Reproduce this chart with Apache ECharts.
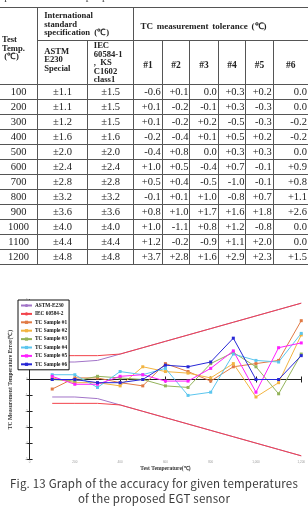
<!DOCTYPE html>
<html>
<head>
<meta charset="utf-8">
<script src="https://cdn.jsdelivr.net/npm/echarts@6/dist/echarts.min.js"></script>
<style>
  html, body { margin: 0; padding: 0; background: #fff; }
  body { width: 308px; height: 506px; position: relative; overflow: hidden; }
  #main { position: absolute; left: 0; top: 0; width: 308px; height: 506px; }
  #topline { position: absolute; left: -14px; top: -10px; font: 11px "Liberation Serif", serif; color: #444; white-space: nowrap; letter-spacing: 0.6px; }
  #tbl { position: absolute; left: 0; top: 7px; border-collapse: collapse; table-layout: fixed; font-family: "Liberation Serif", serif; color: #222; background: #fff; }
  #tbl td { border: 1px solid #555; padding: 0; overflow: hidden; }
  #tbl tr td:first-child { border-left: none; }
  #tbl tr td:last-child { border-right: none; }
  #tbl .h { font-weight: bold; font-size: 8.6px; line-height: 8.6px; vertical-align: middle; }
  #tbl .d td { font-size: 10.5px; height: 14px; line-height: 14px; }
  #caption { position: absolute; left: 0; width: 308px; top: 476px; text-align: center; font: 11.5px "Noto Sans CJK KR", "Noto Sans", sans-serif; line-height: 15px; color: #3a3a3a; letter-spacing: 0.2px; }
</style>
</head>
<body>
<div id="main"></div>
<div id="topline">temperatures of the proposed EGT sensor</div>
<table id="tbl"></table>
<div id="caption">Fig. 13 Graph of the accuracy for given temperatures<br>of the proposed EGT sensor</div>
<script>
// 试验温度与各标准允差
var temps = [100, 200, 300, 400, 500, 600, 700, 800, 900, 1000, 1100, 1200];
var astm = [1.1, 1.1, 1.2, 1.6, 2.0, 2.4, 2.8, 3.2, 3.6, 4.0, 4.4, 4.8];
var iec = [1.5, 1.5, 1.5, 1.6, 2.0, 2.4, 2.8, 3.2, 3.6, 4.0, 4.4, 4.8];
var astmLow = [-1.1, -1.1, -1.2, -1.6, -2.0, -2.4, -2.8, -3.2, -3.6, -4.0, -4.4, -4.8];
var iecLow = [-1.5, -1.5, -1.5, -1.6, -2.0, -2.4, -2.8, -3.2, -3.6, -4.0, -4.4, -4.8];
// 6个TC样品的测量误差
var tc1 = [-0.6, 0.1, 0.1, -0.2, -0.4, 1.0, 0.5, -0.1, 0.8, 1.0, 1.2, 3.7];
var tc2 = [0.1, -0.2, -0.2, -0.4, 0.8, 0.5, 0.4, 0.1, 1.0, -1.1, -0.2, 2.8];
var tc3 = [0.0, -0.1, 0.2, 0.1, 0.0, -0.4, -0.5, 1.0, 1.7, 0.8, -0.9, 1.6];
var tc4 = [0.3, 0.3, -0.5, 0.5, 0.3, 0.7, -1.0, -0.8, 1.6, 1.2, 1.1, 2.9];
var tc5 = [0.2, -0.3, -0.3, 0.2, 0.3, -0.1, -0.1, 0.7, 1.8, -0.8, 2.0, 2.3];
var tc6 = [0.0, 0.0, -0.2, -0.2, 0.0, 0.9, 0.8, 1.1, 2.6, 0.0, 0.0, 1.5];
var tcNames = ['TC Sample #1', 'TC Sample #2', 'TC Sample #3', 'TC Sample #4', 'TC Sample #5', 'TC Sample #6'];
var tcColors = ['#e07a45', '#f2b441', '#93b35a', '#5cc6ee', '#ff1fff', '#2727d6'];
var yTicks = [-5, 5, 1];
var xTicks = [0, 1200, 200];

// ---- 表格 ----
var colW = [37.7, 49.6, 46.7, 28.3, 27.7, 28.3, 27.7, 27.3, 34.7];
function sgn(v) { return v > 0 ? '+' + v.toFixed(1) : v.toFixed(1); }
var html = '<colgroup>';
colW.forEach(function (w) { html += '<col style="width:' + w + 'px">'; });
html += '</colgroup>';
html += '<tr style="height:33px"><td class="h" rowspan="2" style="padding-left:2px;padding-top:4px">Test<br>Temp.<br>&nbsp;(℃)</td>' +
  '<td class="h" colspan="2" style="padding-left:6px">International<br>standard<br>specification &nbsp;(℃)</td>' +
  '<td class="h" colspan="6" style="padding-left:6px;padding-top:4px;font-size:9px;word-spacing:1.5px">TC measurement tolerance (℃)</td></tr>';
html += '<tr style="height:43.5px"><td class="h" style="padding-left:6px;padding-bottom:6px">ASTM<br>E230<br>Special</td>' +
  '<td class="h" style="padding-left:6px">IEC<br>60584-1<br>, &nbsp;KS<br>C1602<br>class1</td>';
for (var k = 1; k <= 6; k++) html += '<td class="h" style="text-align:center;font-size:9.5px;padding-top:6px">#' + k + '</td>';
html += '</tr>';
var tcs = [tc1, tc2, tc3, tc4, tc5, tc6];
temps.forEach(function (t, i) {
  html += '<tr class="d"><td style="text-align:center">' + t + '</td>' +
    '<td style="text-align:center">±' + astm[i].toFixed(1) + '</td>' +
    '<td style="text-align:center">±' + iec[i].toFixed(1) + '</td>';
  tcs.forEach(function (s) { html += '<td style="text-align:right;padding-right:1px">' + sgn(s[i]) + '</td>'; });
  html += '</tr>';
});
document.getElementById('tbl').innerHTML = html;

// ---- 图表 ----
function pairs(arr) { return temps.map(function (t, i) { return [t, arr[i]]; }); }
var myChart = echarts.init(document.getElementById('main'));
var series = [
  { name: 'ASTM-E230', type: 'line', data: pairs(astm), symbol: 'none', lineStyle: { width: 1, color: '#a274c8' }, itemStyle: { color: '#a274c8' } },
  { name: 'ASTM-E230', type: 'line', data: pairs(astmLow), symbol: 'none', lineStyle: { width: 1, color: '#a274c8' }, itemStyle: { color: '#a274c8' } },
  { name: 'IEC 60584-2', type: 'line', data: pairs(iec), symbol: 'none', lineStyle: { width: 1, color: '#f2434b' }, itemStyle: { color: '#f2434b' } },
  { name: 'IEC 60584-2', type: 'line', data: pairs(iecLow), symbol: 'none', lineStyle: { width: 1, color: '#f2434b' }, itemStyle: { color: '#f2434b' } }
];
tcs.forEach(function (s, i) {
  series.push({
    name: tcNames[i], type: 'line', data: pairs(s),
    symbol: 'rect', symbolSize: 3,
    lineStyle: { width: 1, color: tcColors[i] },
    itemStyle: { color: tcColors[i] }
  });
});
var axisCommon = {
  axisLine: { show: true, lineStyle: { color: '#222', width: 1 } },
  axisTick: { show: true, inside: true, length: 3, lineStyle: { color: '#222' } },
  splitLine: { show: false }
};
option = {
  animation: false,
  legend: {
    orient: 'vertical', left: 18, top: 300,
    data: ['ASTM-E230', 'IEC 60584-2'].concat(tcNames),
    itemWidth: 11, itemHeight: 4, itemGap: 3.4,
    padding: [3, 2, 3, 2],
    backgroundColor: '#fff', borderColor: '#111', borderWidth: 1,
    textStyle: { fontSize: 5.3, fontWeight: 'bold', fontFamily: 'Liberation Serif', color: '#111', padding: [0, 0, 0, -2] }
  },
  grid: { left: 18, right: 1, top: 300, bottom: 47 },
  xAxis: [
    Object.assign({
      type: 'value', min: xTicks[0], max: xTicks[1], interval: xTicks[2],
      name: 'Test Temperature(℃)', nameLocation: 'middle', nameGap: 7,
      nameTextStyle: { fontSize: 5.5, fontWeight: 'bold', fontFamily: 'Liberation Serif', color: '#333' },
      axisLabel: { fontSize: 3, color: '#999', margin: 2 }
    }, axisCommon),
    Object.assign({
      type: 'value', min: xTicks[0], max: xTicks[1], interval: xTicks[2], position: 'top',
      axisLabel: { show: false }
    }, axisCommon)
  ],
  yAxis: [
    Object.assign({
      type: 'value', min: yTicks[0], max: yTicks[1], interval: yTicks[2],
      name: 'TC Measurement Temperature Error(℃)', nameLocation: 'middle', nameGap: 9,
      nameTextStyle: { fontSize: 5.6, fontWeight: 'bold', fontFamily: 'Liberation Serif', color: '#333' },
      axisLabel: { fontSize: 3, color: '#999', margin: 2 }
    }, axisCommon),
    Object.assign({
      type: 'value', min: yTicks[0], max: yTicks[1], interval: yTicks[2], position: 'right',
      axisLabel: { show: false }
    }, axisCommon)
  ],
  series: series
};
myChart.setOption(option);
</script>
</body>
</html>
